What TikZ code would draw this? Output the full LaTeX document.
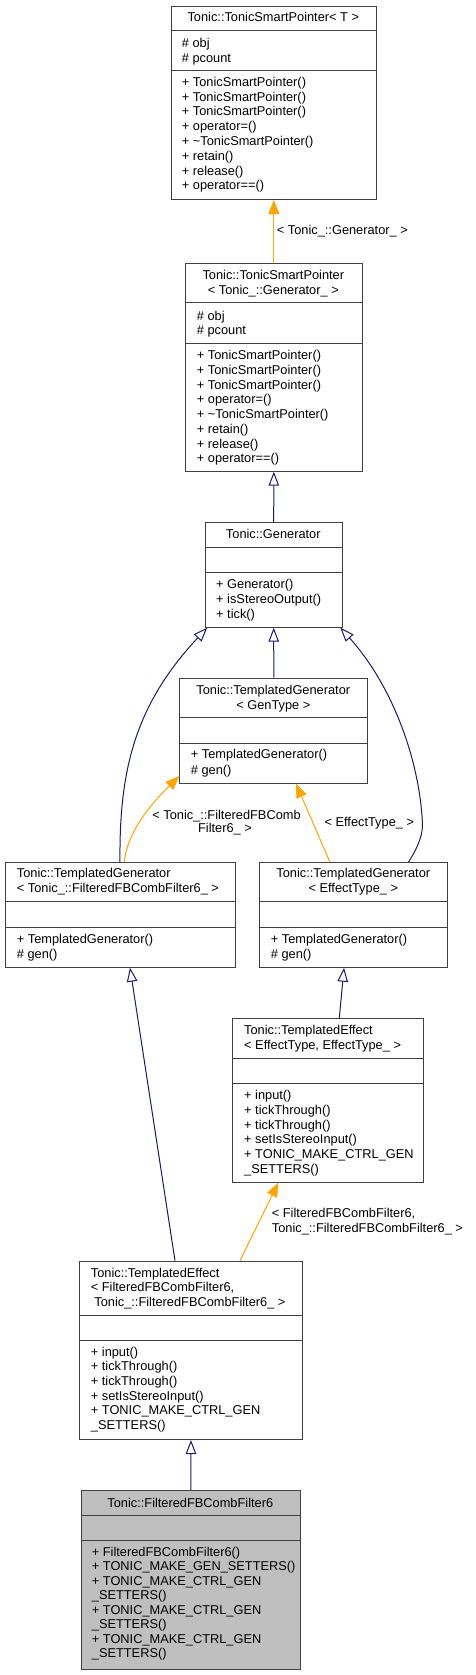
\documentclass[tikz,border=0pt]{standalone}
\usepackage{fontspec}
\setmainfont{Liberation Sans}
\usetikzlibrary{arrows.meta}
\definecolor{edgeblue}{HTML}{191970}
\definecolor{edgeorange}{HTML}{FFA500}
\definecolor{boxline}{HTML}{404040}
\definecolor{boxgray}{HTML}{BFBFBF}
% left-aligned lines: name, x, y of first line centre, step, list
\newcommand\cmp[5]{\foreach \t [count=\i from 0] in {#5}{\node[txt, anchor=base west] (#1-\i) at (#2, {#3+4.5+\i*#4}) {\t};}}
% centred lines
\newcommand\ctr[5]{\foreach \t [count=\i from 0] in {#5}{\node[txt, anchor=base] (#1-\i) at (#2, {#3+4.5+\i*#4}) {\t};}}
% box: name, left, top, right, bottom, sep1, sep2, extra style
\newcommand\umlbox[8]{%
  \node[umlrect, #8, minimum width={#4-#2}, minimum height={#5-#3}, anchor=north west] (#1) at (#2,#3) {};
  \draw[sepline] (#2,#6) -- (#4,#6);
  \draw[sepline] (#2,#7) -- (#4,#7);}
\begin{document}
\begin{tikzpicture}[x=1pt, y=-1pt,
  txt/.style={inner sep=0pt, font=\fontsize{12.8}{14.7}\selectfont},
  lbl/.style={inner sep=0pt, font=\fontsize{12.8}{14}\selectfont},
  umlrect/.style={draw=boxline, line width=1pt, inner sep=0pt, fill=white},
  sepline/.style={draw=boxline, line width=1pt},
  inh/.style={draw=edgeblue, line width=1pt, -{Triangle[open, length=14pt, width=10.5pt]}},
  tmpl/.style={draw=edgeorange, line width=1pt, -{Triangle[length=14pt, width=11pt, fill=edgeorange]}}]
\useasboundingbox (0,0) rectangle (475,1675);

% boxes
\umlbox{b1}{170.7}{5.7}{376}{199}{31}{71}{}
\umlbox{b2}{185}{263.3}{361.7}{470.7}{302.3}{343.3}{}
\umlbox{b3}{204.7}{522.3}{341.7}{626.7}{547}{572.3}{}
\umlbox{b4}{179.3}{677.7}{367.3}{782.7}{717.3}{743.3}{}
\umlbox{b5}{5}{862.3}{235}{966.7}{901.7}{927.7}{}
\umlbox{b6}{259.3}{862.3}{447.3}{966.7}{901.7}{927.7}{}
\umlbox{b7}{232.3}{1018.3}{423.3}{1181.7}{1058.3}{1083.3}{}
\umlbox{b8}{79.3}{1260.7}{301.7}{1439}{1315}{1340}{}
\umlbox{b9}{80.7}{1490}{300}{1669.3}{1515}{1540}{fill=boxgray}

% texts
\ctr{t1}{273.3}{17.3}{15}{{Tonic::TonicSmartPointer< T >}}
\cmp{a1}{181.7}{42.7}{15}{{\# obj},{\# pcount}}
\cmp{m1}{181.7}{82}{14.75}{{+ TonicSmartPointer()},{+ TonicSmartPointer()},{+ TonicSmartPointer()},{+ operator=()},{+ \textasciitilde TonicSmartPointer()},{+ retain()},{+ release()},{+ operator==()}}

\ctr{t2}{273.3}{275}{15}{{Tonic::TonicSmartPointer},{< Tonic\_::Generator\_ >}}
\cmp{a2}{196.7}{315.7}{14.5}{{\# obj},{\# pcount}}
\cmp{m2}{196.7}{355}{14.75}{{+ TonicSmartPointer()},{+ TonicSmartPointer()},{+ TonicSmartPointer()},{+ operator=()},{+ \textasciitilde TonicSmartPointer()},{+ retain()},{+ release()},{+ operator==()}}

\ctr{t3}{273.3}{534}{15}{{Tonic::Generator}}
\cmp{m3}{216}{584}{14.85}{{+ Generator()},{+ isStereoOutput()},{+ tick()}}

\ctr{t4}{273.3}{690}{15}{{Tonic::TemplatedGenerator},{< GenType >}}
\cmp{m4}{190.7}{754.3}{15.5}{{+ TemplatedGenerator()},{\# gen()}}

\cmp{t5}{16.7}{873.3}{15}{{Tonic::TemplatedGenerator},{< Tonic\_::FilteredFBCombFilter6\_ >}}
\cmp{m5}{16.7}{939}{15}{{+ TemplatedGenerator()},{\# gen()}}

\ctr{t6}{353.3}{873.3}{15}{{Tonic::TemplatedGenerator},{< EffectType\_ >}}
\cmp{m6}{270.7}{939}{15}{{+ TemplatedGenerator()},{\# gen()}}

\cmp{t7}{244}{1030}{15}{{Tonic::TemplatedEffect},{< EffectType, EffectType\_ >}}
\cmp{m7}{244}{1095}{14.8}{{+ input()},{+ tickThrough()},{+ tickThrough()},{+ setIsStereoInput()},{+ TONIC\_MAKE\_CTRL\_GEN},{\_SETTERS()}}

\cmp{t8}{90.7}{1272.7}{14.5}{{Tonic::TemplatedEffect},{< FilteredFBCombFilter6,},{\hspace{3.5pt}Tonic\_::FilteredFBCombFilter6\_ >}}
\cmp{m8}{90.7}{1351.7}{14.65}{{+ input()},{+ tickThrough()},{+ tickThrough()},{+ setIsStereoInput()},{+ TONIC\_MAKE\_CTRL\_GEN},{\_SETTERS()}}

\ctr{t9}{190.3}{1502.7}{15}{{Tonic::FilteredFBCombFilter6}}
\cmp{m9}{91.7}{1551.7}{14.5}{{+ FilteredFBCombFilter6()},{+ TONIC\_MAKE\_GEN\_SETTERS()},{+ TONIC\_MAKE\_CTRL\_GEN},{\_SETTERS()},{+ TONIC\_MAKE\_CTRL\_GEN},{\_SETTERS()},{+ TONIC\_MAKE\_CTRL\_GEN},{\_SETTERS()}}

% edge labels
\node[lbl, anchor=base west] (l1) at (276.7, 234.5) {< Tonic\_::Generator\_ >};
\node[lbl, anchor=base] (l2a) at (226.5, 819.5) {< Tonic\_::FilteredFBComb};
\node[lbl, anchor=base] (l2b) at (225, 832.8) {Filter6\_ >};
\node[lbl, anchor=base] (l3) at (369.3, 826.2) {< EffectType\_ >};
\node[lbl, anchor=base west] (l4a) at (271.7, 1217.8) {< FilteredFBCombFilter6,};
\node[lbl, anchor=base west] (l4b) at (271.7, 1232.2) {Tonic\_::FilteredFBCombFilter6\_ >};

% edges
\draw[tmpl] (b2.north) -- (b1.south);
\draw[inh] (b3.north) -- (b2.south);
\draw[inh] (b4.north) -- (b3.south);
\draw[inh] ([xshift=115pt]b5.north west) .. controls (119,770) and (135,705) .. ([xshift=2.5pt]b3.south west);
\draw[tmpl] ([xshift=119.3pt]b5.north west) .. controls (127,830) and (155,800) .. ([yshift=7.7pt]b4.south west);
\draw[tmpl] ([xshift=70.7pt]b6.north west) -- ([xshift=116.7pt]b4.south west);
\draw[inh] ([xshift=149pt]b6.north west) .. controls (415,852) and (422.5,838) .. (422.5,825) .. controls (420,760) and (392,685) .. ([xshift=-2.4pt]b3.south east);
\draw[inh] ([xshift=107pt]b7.north west) -- ([xshift=84.7pt]b6.south west);
\draw[inh] ([xshift=95.7pt]b8.north west) -- ([xshift=125pt]b5.south west);
\draw[tmpl] ([xshift=160.7pt]b8.north west) -- ([xshift=46pt]b7.south west);
\draw[inh] (b9.north) -- (b8.south);
\end{tikzpicture}
\end{document}
